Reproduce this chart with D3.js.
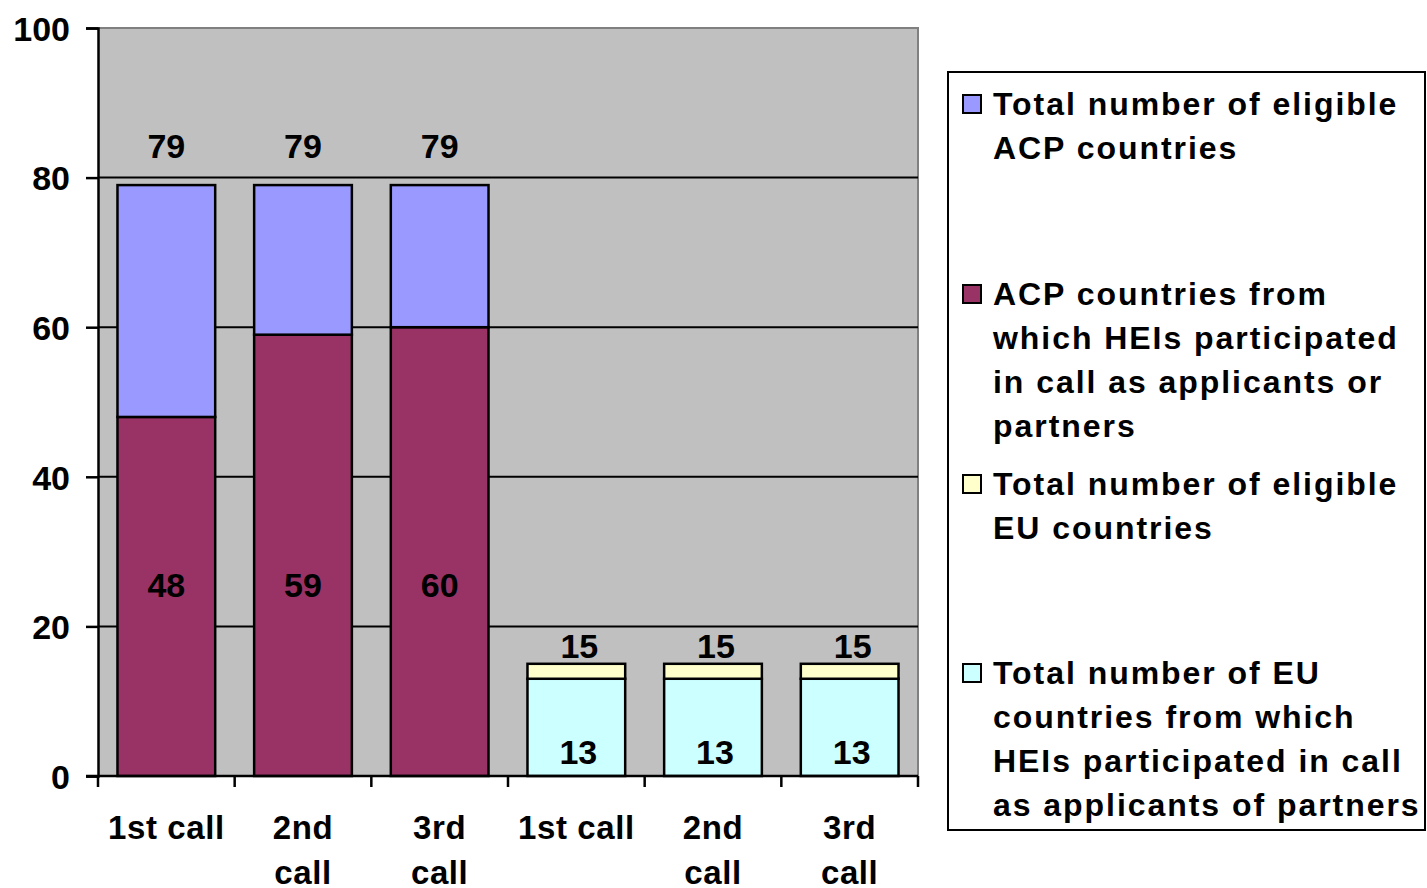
<!DOCTYPE html>
<html>
<head>
<meta charset="utf-8">
<script src="https://cdn.jsdelivr.net/npm/d3@7"></script>
<style>
  html, body { margin: 0; padding: 0; background: #fff; }
  svg { display: block; }
  text { font-family: "Liberation Sans", Arial, sans-serif; font-weight: bold; fill: #000; }
</style>
</head>
<body>
<svg id="chart" width="1427" height="888"></svg>
<script>
// ---- data ----
const categories = ["1st call", "2nd call", "3rd call", "1st call", "2nd call", "3rd call"];
const categoryLines = [["1st call"], ["2nd", "call"], ["3rd", "call"], ["1st call"], ["2nd", "call"], ["3rd", "call"]];
const acpEligibleTotal = [79, 79, 79, 0, 0, 0];
const acpParticipated = [48, 59, 60, 0, 0, 0];
const euEligibleTotal = [0, 0, 0, 15, 15, 15];
const euParticipated = [0, 0, 0, 13, 13, 13];
const yTicks = [0, 20, 40, 60, 80, 100];

const legendItems = [
  { key: "acpRest", color: "#9999FF", lines: ["Total number of eligible", "ACP countries"] },
  { key: "acpPart", color: "#993366", lines: ["ACP countries from", "which HEIs participated", "in call as applicants or", "partners"] },
  { key: "euRest", color: "#FFFFCC", lines: ["Total number of eligible", "EU countries"] },
  { key: "euPart", color: "#CCFFFF", lines: ["Total number of EU", "countries from which", "HEIs participated in call", "as applicants of partners"] }
];
const colors = { acpPart: "#993366", acpRest: "#9999FF", euPart: "#CCFFFF", euRest: "#FFFFCC" };

// ---- layout ----
const svg = d3.select("#chart");
const plot = { left: 98, top: 28, right: 918, bottom: 776 };

const rows = categories.map((c, i) => ({
  idx: i,
  acpPart: acpParticipated[i],
  acpRest: acpEligibleTotal[i] - acpParticipated[i],
  euPart: euParticipated[i],
  euRest: euEligibleTotal[i] - euParticipated[i]
}));

const x = d3.scaleBand().domain(d3.range(categories.length))
  .range([plot.left, plot.right]).paddingInner(0.285).paddingOuter(0.1425);
const xOuter = d3.scaleBand().domain(d3.range(categories.length)).range([plot.left, plot.right]);
const y = d3.scaleLinear().domain([0, 100]).range([plot.bottom, plot.top]);

// background
svg.append("rect").attr("x", plot.left).attr("y", plot.top)
  .attr("width", plot.right - plot.left).attr("height", plot.bottom - plot.top)
  .attr("fill", "#C0C0C0");
// top/right border
svg.append("path")
  .attr("d", `M${plot.left},${plot.top}H${plot.right}V${plot.bottom}`)
  .attr("fill", "none").attr("stroke", "#808080").attr("stroke-width", 2);

// gridlines
svg.append("g").selectAll("line").data(yTicks.filter(t => t > 0 && t < 100)).join("line")
  .attr("x1", plot.left).attr("x2", plot.right)
  .attr("y1", d => y(d)).attr("y2", d => y(d))
  .attr("stroke", "#000").attr("stroke-width", 2);

// stacked bars
const keys = ["acpPart", "acpRest", "euPart", "euRest"];
const stack = d3.stack().keys(keys)(rows);
const barG = svg.append("g");
stack.forEach(layer => {
  barG.append("g").selectAll("rect")
    .data(layer.filter(d => d[1] - d[0] > 0))
    .join("rect")
    .attr("x", d => x(d.data.idx))
    .attr("width", x.bandwidth())
    .attr("y", d => y(d[1]))
    .attr("height", d => y(d[0]) - y(d[1]))
    .attr("fill", colors[layer.key])
    .attr("stroke", "#000").attr("stroke-width", 2.5);
});

// y axis
const yAxis = d3.axisLeft(y).tickValues(yTicks).tickSize(12).tickPadding(16).tickFormat(d3.format("d"));
const yg = svg.append("g").attr("transform", `translate(${plot.left},0)`).call(yAxis);
yg.select(".domain").attr("stroke", "#000").attr("stroke-width", 2.5);
yg.selectAll(".tick line").attr("stroke", "#000").attr("stroke-width", 2.5);
yg.selectAll(".tick text").attr("font-size", 34).attr("font-family", "Liberation Sans, Arial, sans-serif")
  .attr("font-weight", "bold").attr("fill", "#000").attr("dy", "0.36em");

// x axis
const xg = svg.append("g").attr("transform", `translate(0,${plot.bottom})`);
xg.append("line").attr("x1", plot.left - 12).attr("x2", plot.right).attr("y1", 0).attr("y2", 0)
  .attr("stroke", "#000").attr("stroke-width", 2.5);
const boundaries = d3.range(categories.length + 1).map(i => i < categories.length ? xOuter(i) : plot.right);
xg.selectAll("line.tk").data(boundaries).join("line").attr("class", "tk")
  .attr("x1", d => d).attr("x2", d => d).attr("y1", 0).attr("y2", 11)
  .attr("stroke", "#000").attr("stroke-width", 2.5);
xg.selectAll("text.cat").data(categoryLines).join("text").attr("class", "cat")
  .attr("text-anchor", "middle").attr("font-size", 33).attr("letter-spacing", "0.6px")
  .attr("transform", (d, i) => `translate(${xOuter(i) + xOuter.bandwidth() / 2},0)`)
  .each(function(lines) {
    d3.select(this).selectAll("tspan").data(lines).join("tspan")
      .attr("x", 0).attr("y", (l, j) => 63 + j * 45).text(l => l);
  });

// value labels
const labelG = svg.append("g").attr("font-size", 34).attr("text-anchor", "middle");
rows.forEach((r, i) => {
  const cx = x(i) + x.bandwidth() / 2;
  if (acpEligibleTotal[i] > 0) {
    labelG.append("text").attr("x", cx).attr("y", y(acpEligibleTotal[i]) - 39)
      .attr("dominant-baseline", "central").text(acpEligibleTotal[i]);
    labelG.append("text").attr("x", cx).attr("y", y(25.5))
      .attr("dominant-baseline", "central").text(acpParticipated[i]);
  }
  if (euEligibleTotal[i] > 0) {
    labelG.append("text").attr("x", cx + 3).attr("y", y(euEligibleTotal[i]) - 18)
      .attr("dominant-baseline", "central").text(euEligibleTotal[i]);
    labelG.append("text").attr("x", cx + 2).attr("y", y(3.2))
      .attr("dominant-baseline", "central").text(euParticipated[i]);
  }
});

// legend
const lg = svg.append("g");
lg.append("rect").attr("x", 948).attr("y", 72).attr("width", 477).attr("height", 758)
  .attr("fill", "#fff").attr("stroke", "#000").attr("stroke-width", 2);
const entryTops = [104, 294, 484, 673];
legendItems.forEach((item, k) => {
  const cy = entryTops[k];
  lg.append("rect").attr("x", 963).attr("y", cy - 9).attr("width", 18).attr("height", 18)
    .attr("fill", item.color).attr("stroke", "#000").attr("stroke-width", 2);
  const t = lg.append("text").attr("font-size", 32).attr("letter-spacing", "1.95px");
  item.lines.forEach((line, j) => {
    t.append("tspan").attr("x", 993).attr("y", cy + j * 44).attr("dominant-baseline", "central").text(line);
  });
});
</script>
</body>
</html>
